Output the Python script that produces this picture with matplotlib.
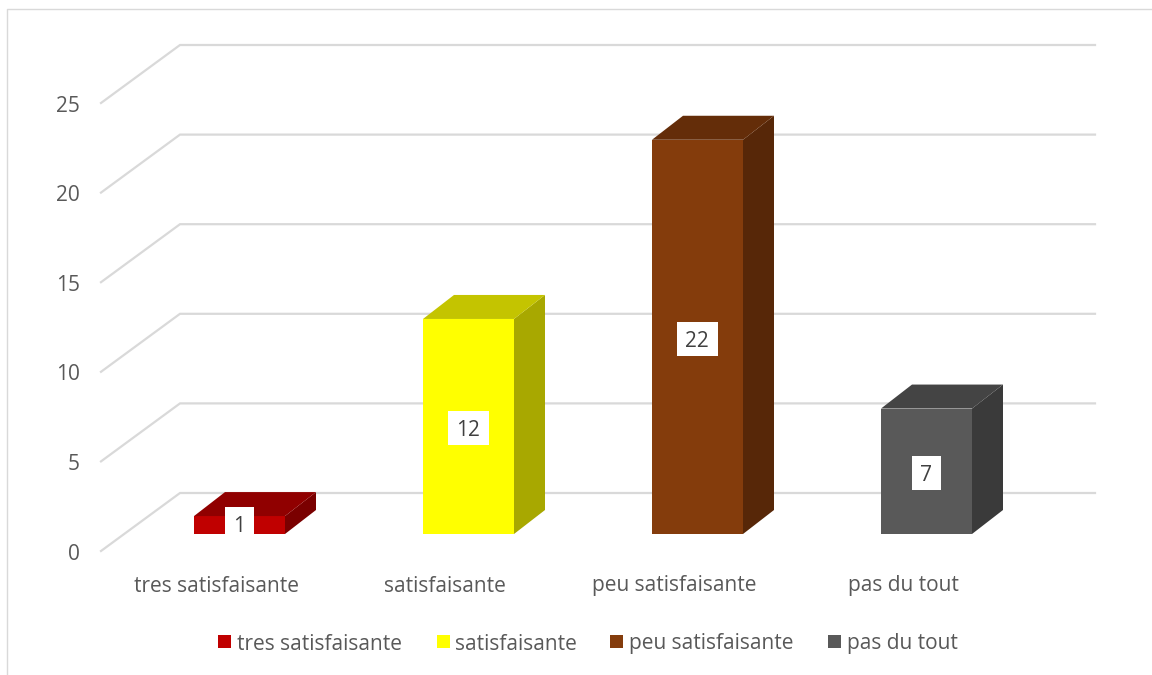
import matplotlib
matplotlib.use('Agg')
import matplotlib.pyplot as plt
from matplotlib.patches import Polygon, Rectangle

plt.rcParams['font.family'] = ['Open Sans', 'DejaVu Sans']

categories = ['tres satisfaisante', 'satisfaisante', 'peu satisfaisante', 'pas du tout']
values = [1, 12, 22, 7]
y_ticks = [0, 5, 10, 15, 20, 25]

front_colors = ['#c00000', '#ffff00', '#843c0c', '#595959']
side_colors = ['#7a0000', '#a8a800', '#572708', '#3a3a3a']
top_colors = ['#900000', '#c4c400', '#642d09', '#444444']

W, H = 1152, 675
fig = plt.figure(figsize=(W / 100, H / 100), dpi=100)
ax = fig.add_axes([0, 0, 1, 1])
ax.set_xlim(0, W)
ax.set_ylim(H, 0)
ax.axis('off')

# chart frame, only left and top are visible in the crop
ax.plot([7, 7, 1152], [675, 9, 9], color='#d9d9d9', lw=1)

# depth offset of the 3d box
dx, dy = 31, 24
x0 = 101
y_zero = 551
unit = 17.92


def y_pos(v):
    return y_zero - v * unit


# back wall grid lines and side wall lines
for t in y_ticks:
    y = y_pos(t)
    ax.plot([x0, x0 + 79, 1095], [y, y - 58, y - 58], color='#d9d9d9', lw=1.6, zorder=1, solid_joinstyle='miter')
    ax.text(80, y + 3, str(t), ha='right', va='center', fontsize=15, color='#595959')

bar_lefts = [194, 423, 652, 881]
bar_w = 91
base = 534

for i, v in enumerate(values):
    l = bar_lefts[i]
    r = l + bar_w
    top = base - v * unit
    ax.add_patch(Rectangle((l, top), bar_w, base - top, color=front_colors[i], lw=0, zorder=3))
    ax.add_patch(Polygon([(r, top), (r + dx, top - dy), (r + dx, base - dy), (r, base)],
                         closed=True, color=side_colors[i], lw=0, zorder=3))
    ax.add_patch(Polygon([(l, top), (l + dx, top - dy), (r + dx, top - dy), (r, top)],
                         closed=True, color=top_colors[i], lw=0, zorder=3))
    # value label sits on a white box at mid height
    cy = (top + base) / 2 + 2 if v > 1 else 524
    lx = l + bar_w / 2 - 0.5
    half = 20.5 if v >= 10 else 14.5
    ax.add_patch(Rectangle((lx - half, cy - 17), 2 * half, 34, color='white', lw=0, zorder=4))
    ax.text(lx, cy + 2.5, str(v), ha='center', va='center', fontsize=15, color='#404040', zorder=5)
    ax.text(l + bar_w / 2 - 23.5, 586, categories[i], ha='center', va='center', fontsize=15, color='#595959')

# legend
legend_x = [218, 437, 610, 828]
for i, c in enumerate(categories):
    ax.add_patch(Rectangle((legend_x[i], 635), 13, 13, color=front_colors[i], lw=0))
    ax.text(legend_x[i] + 19 - (1 if i == 1 else 0), 644, c, ha='left', va='center', fontsize=15, color='#595959')

fig.savefig('out.png', dpi=100)
